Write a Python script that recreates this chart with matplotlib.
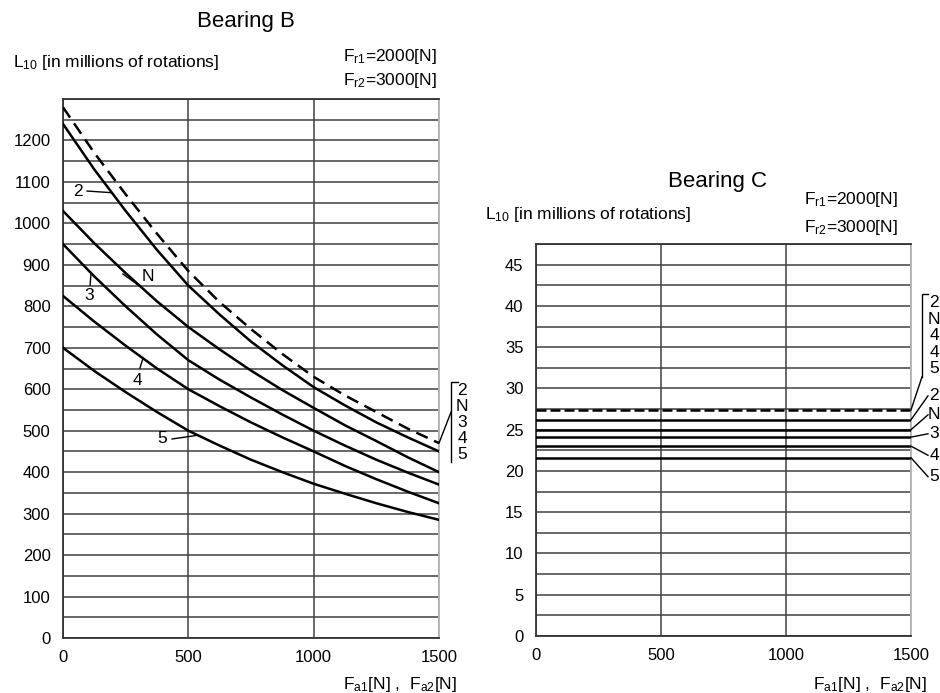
import numpy as np
import matplotlib
matplotlib.use("Agg")
import matplotlib.pyplot as plt
from matplotlib.ticker import MultipleLocator

plt.rcParams.update({
    "font.family": "Liberation Sans", "font.size": 12,
    "mathtext.fontset": "custom", "mathtext.rm": "Liberation Sans",
})

# ---- data (every 125 N) ----
fa = [0, 125, 250, 375, 500, 625, 750, 875, 1000, 1125, 1250, 1375, 1500]
b_eq = [1280, 1170, 1070, 975, 885, 810, 745, 685, 630, 585, 545, 505, 470]   # dashed curve
b_2 = [1240, 1130, 1030, 936, 850, 780, 715, 658, 605, 561, 520, 484, 450]
b_N = [1030, 952, 880, 812, 750, 696, 645, 598, 555, 513, 475, 436, 400]
b_3 = [950, 872, 800, 732, 670, 623, 580, 539, 500, 464, 430, 399, 370]
b_4 = [825, 763, 705, 650, 600, 559, 520, 484, 450, 415, 383, 353, 325]
b_5 = [700, 644, 593, 545, 500, 464, 430, 400, 372, 348, 325, 304, 285]

fa_c = [0, 1500]
c_eq = 27.4
c_levels = {"2": 26.2, "N": 25.0, "3": 24.1, "4": 23.0, "5": 21.6}

W, H = 940, 693
GRID = "#404040"
fig = plt.figure(figsize=(W / 100, H / 100), dpi=100)


def px(x, y):
    return x / W, 1 - y / H


def frame(ax, ymax, ystep, ylabels):
    ax.set_xlim(0, 1500); ax.set_ylim(0, ymax)
    ax.set_xticks([0, 500, 1000, 1500])
    ax.set_yticks(ylabels)
    ax.yaxis.set_minor_locator(MultipleLocator(ystep))
    ax.tick_params(which="both", length=0, labelsize=12, pad=9)
    ax.grid(axis="x", color=GRID, lw=1.1)
    ax.grid(axis="y", which="both", color=GRID, lw=1.1)
    ax.set_axisbelow(True)
    for s in ["left", "bottom", "top"]:
        ax.spines[s].set_color("#333333"); ax.spines[s].set_linewidth(1.3)
    ax.spines["right"].set_color("#b5b5b5"); ax.spines["right"].set_linewidth(1.3)


def mt(s):
    return r"$\mathregular{" + s + "}$"


# ---------------- Bearing B ----------------
axb = fig.add_axes([63 / W, 55 / H, 376 / W, 539 / H])
frame(axb, 1300, 50, list(range(0, 1201, 100)))
axb.plot(fa, b_eq, color="black", lw=1.8, ls=(0, (5, 2.8)), zorder=3)
for ys in [b_2, b_N, b_3, b_4, b_5]:
    axb.plot(fa, ys, color="black", lw=1.8, zorder=3)

kw = dict(color="black", lw=1.0, clip_on=False, zorder=4)
# curve labels with leader lines: (label, curve, text xy, leader start, leader end x)
for lab, ys, (tx, ty), (x0, y0), x1 in [
        ("2", b_2, (60, 1076), (96, 1078), 195),
        ("N", b_N, (340, 871), (239, 878), 315),
        ("3", b_3, (104, 825), (108, 851), 112),
        ("4", b_4, (295, 620), (307, 651), 319),
        ("5", b_5, (395, 480), (435, 480), 538)]:
    axb.text(tx, ty, lab, ha="center", va="center", fontsize=12.5)
    axb.plot([x0, x1], [y0, np.interp(x1, fa, ys)], **kw)

# bracket on the right
axb.plot([1575, 1548, 1548], [617, 617, 424], **kw)
axb.plot([1548, 1500], [545, b_eq[-1]], **kw)
for i, lab in enumerate(["2", "N", "3", "4", "5"]):
    axb.text(1593, 596 - i * 38.5, lab, ha="center", va="center", fontsize=12.5)

fig.text(*px(246, 21), "Bearing B", ha="center", va="center", fontsize=16)
fig.text(*px(13, 63), mt("L_{10}") + " [in millions of rotations]", ha="left", va="center", fontsize=12.5)
fig.text(*px(437, 57), mt("F_{r1}") + "=2000[N]", ha="right", va="center", fontsize=12.5)
fig.text(*px(437, 80), mt("F_{r2}") + "=3000[N]", ha="right", va="center", fontsize=12.5)
fig.text(*px(400, 684), mt("F_{a1}") + "[N] ,  " + mt("F_{a2}") + "[N]", ha="center", va="center", fontsize=12.5)

# ---------------- Bearing C ----------------
axc = fig.add_axes([536 / W, 57 / H, 375 / W, 392 / H])
frame(axc, 47.5, 2.5, list(range(0, 46, 5)))
axc.plot(fa_c, [c_eq, c_eq], color="black", lw=1.8, ls=(0, (4, 1.6)), zorder=3)
for v in c_levels.values():
    axc.plot(fa_c, [v, v], color="black", lw=1.8, zorder=3)

axc.plot([1568, 1544, 1544], [41.4, 41.4, 31.4], **kw)
axc.plot([1544, 1500], [31.4, c_eq], **kw)
for i, lab in enumerate(["2", "N", "4", "4", "5"]):
    axc.text(1592, 40.4 - i * 2.0, lab, ha="center", va="center", fontsize=12.5)

for (lab, v), ty in zip(c_levels.items(), [29.1, 26.8, 24.5, 21.9, 19.3]):
    axc.plot([1500, 1568], [v, ty], **kw)
    axc.text(1592, ty, lab, ha="center", va="center", fontsize=12.5)

fig.text(*px(718, 182), "Bearing C", ha="center", va="center", fontsize=16)
fig.text(*px(485, 215), mt("L_{10}") + " [in millions of rotations]", ha="left", va="center", fontsize=12.5)
fig.text(*px(898, 200), mt("F_{r1}") + "=2000[N]", ha="right", va="center", fontsize=12.5)
fig.text(*px(898, 227), mt("F_{r2}") + "=3000[N]", ha="right", va="center", fontsize=12.5)
fig.text(*px(870, 684), mt("F_{a1}") + "[N] ,  " + mt("F_{a2}") + "[N]", ha="center", va="center", fontsize=12.5)

fig.savefig("out.png", dpi=100, facecolor="white")
